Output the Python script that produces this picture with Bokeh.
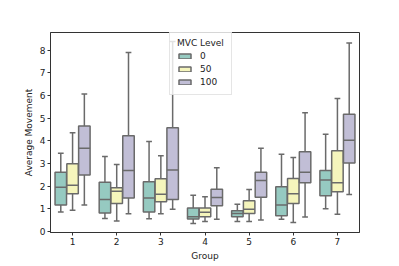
from bokeh.plotting import figure
from bokeh.models import ColumnDataSource, FactorRange, Range1d, FixedTicker
from bokeh.transform import dodge
from bokeh.embed import file_html
from bokeh.resources import INLINE

groups = ["1", "2", "3", "4", "5", "6", "7"]
levels = ["0", "50", "100"]

# Level 0
lo_0 = [0.86, 0.58, 0.57, 0.36, 0.44, 0.54, 1.01]
q1_0 = [1.17, 0.82, 0.86, 0.56, 0.66, 0.70, 1.58]
med_0 = [1.96, 1.41, 1.48, 0.66, 0.80, 1.17, 2.27]
q3_0 = [2.62, 2.18, 2.20, 1.04, 0.92, 1.98, 2.69]
hi_0 = [3.46, 3.31, 3.97, 1.60, 1.21, 3.41, 4.29]

# Level 50
lo_50 = [0.94, 0.47, 0.79, 0.45, 0.45, 0.40, 0.77]
q1_50 = [1.67, 1.24, 1.32, 0.66, 0.80, 1.24, 1.76]
med_50 = [2.04, 1.78, 1.65, 0.85, 0.99, 1.67, 2.15]
q3_50 = [2.99, 1.93, 2.33, 1.04, 1.36, 2.34, 3.56]
hi_50 = [4.36, 2.96, 3.35, 1.54, 1.86, 3.27, 5.87]

# Level 100
lo_100 = [1.17, 0.79, 0.99, 0.54, 0.51, 0.64, 1.64]
q1_100 = [2.50, 1.48, 1.42, 1.14, 1.51, 2.15, 3.03]
med_100 = [3.68, 2.69, 2.72, 1.50, 2.25, 2.62, 4.03]
q3_100 = [4.66, 4.23, 4.58, 1.87, 2.62, 3.52, 5.17]
hi_100 = [6.07, 7.90, 8.38, 2.81, 3.68, 5.24, 8.32]

y_ticks = [0, 1, 2, 3, 4, 5, 6, 7, 8]

stats = {
    "0": (lo_0, q1_0, med_0, q3_0, hi_0),
    "50": (lo_50, q1_50, med_50, q3_50, hi_50),
    "100": (lo_100, q1_100, med_100, q3_100, hi_100),
}
colors = {"0": "#96cac1", "50": "#f5f5bc", "100": "#c1bed6"}
offsets = {"0": -0.267, "50": 0.0, "100": 0.267}
GRAY = "#6a6a6a"
FONT = "DejaVu Sans"
FS = "9px"

p = figure(
    width=391, height=264,
    x_range=FactorRange(*groups, range_padding=0),
    y_range=Range1d(-0.04, 8.78),
    output_backend="svg", toolbar_location=None,
    min_border_left=50, min_border_right=32, min_border_top=32, min_border_bottom=32,
)

bw = 0.26
for lv in levels:
    lo, q1, med, q3, hi = stats[lv]
    src = ColumnDataSource(dict(g=groups, lo=lo, q1=q1, med=med, q3=q3, hi=hi))
    off = offsets[lv]
    xc = dodge("g", off, range=p.x_range)
    # whiskers
    p.segment(x0=xc, x1=xc, y0="q3", y1="hi", source=src, line_color=GRAY, line_width=1.5)
    p.segment(x0=xc, x1=xc, y0="lo", y1="q1", source=src, line_color=GRAY, line_width=1.5)
    # caps
    xl = dodge("g", off - bw / 4, range=p.x_range)
    xr = dodge("g", off + bw / 4, range=p.x_range)
    p.segment(x0=xl, x1=xr, y0="hi", y1="hi", source=src, line_color=GRAY, line_width=1.5)
    p.segment(x0=xl, x1=xr, y0="lo", y1="lo", source=src, line_color=GRAY, line_width=1.5)
    # box
    p.vbar(x=xc, width=bw, bottom="q1", top="q3", source=src,
           fill_color=colors[lv], line_color=GRAY, line_width=1.5, legend_label=lv)
    # median
    ml = dodge("g", off - bw / 2, range=p.x_range)
    mr = dodge("g", off + bw / 2, range=p.x_range)
    p.segment(x0=ml, x1=mr, y0="med", y1="med", source=src, line_color=GRAY, line_width=1.5)

p.xgrid.visible = False
p.ygrid.visible = False
p.outline_line_color = "#333333"
p.outline_line_width = 1
p.background_fill_color = "white"
p.border_fill_color = "white"

p.yaxis.ticker = FixedTicker(ticks=y_ticks)
for ax in (p.xaxis[0], p.yaxis[0]):
    ax.axis_line_color = "#333333"
    ax.major_tick_line_color = "#333333"
    ax.major_tick_in = 0
    ax.major_tick_out = 3
    ax.minor_tick_line_color = None
    ax.major_label_text_font = FONT
    ax.major_label_text_font_size = FS
    ax.major_label_text_color = "#222222"
    ax.axis_label_text_font = FONT
    ax.axis_label_text_font_size = FS
    ax.axis_label_text_font_style = "normal"
    ax.axis_label_text_color = "#222222"
    ax.major_label_standoff = 2
    ax.axis_label_standoff = 3
p.xaxis.axis_label = "Group"
p.yaxis.axis_label = "Average Movement"
p.xaxis.major_label_standoff = 2
p.xaxis.axis_label_standoff = 3

lg = p.legend[0]
lg.title = "MVC Level"
lg.title_text_font = FONT
lg.title_text_font_size = FS
lg.title_text_font_style = "normal"
lg.title_text_color = "#222222"
lg.title_standoff = 2
lg.label_text_font = FONT
lg.label_text_font_size = FS
lg.label_text_color = "#222222"
lg.glyph_width = 15
lg.glyph_height = 6
lg.label_height = 11
lg.label_width = 24
lg.label_standoff = 8
lg.spacing = 2
lg.padding = 7
lg.margin = 0
lg.border_line_color = "#cccccc"
lg.border_line_width = 1
lg.background_fill_color = "white"
lg.background_fill_alpha = 0.8
lg.location = (119, 137)

open("out.html", "w").write(file_html(p, INLINE))
